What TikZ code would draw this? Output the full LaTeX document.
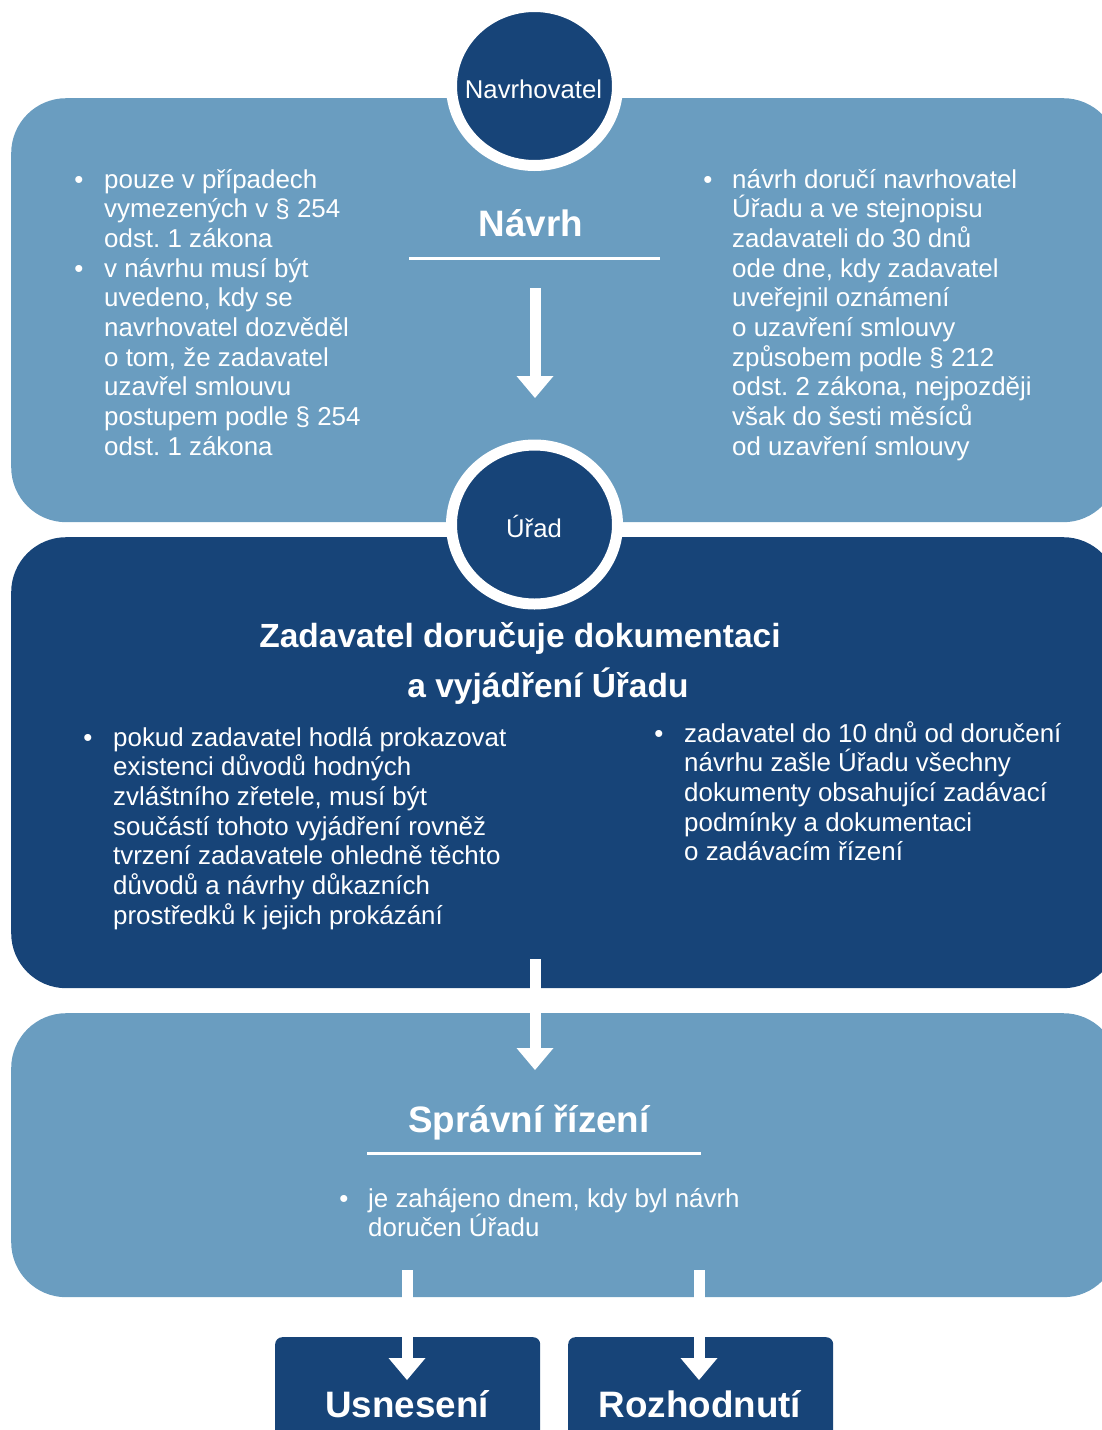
\documentclass[tikz,border=0pt]{standalone}
\usepackage{fontspec}
\setmainfont{Liberation Sans}
\usetikzlibrary{calc,shapes.geometric}
\frenchspacing

\definecolor{paleblue}{HTML}{6A9DC0}
\definecolor{navyblue}{HTML}{174478}

% white block arrow: shaft from #1 down to the head, filled head ending at #2
\newcommand{\blockarrow}[2]{%
  \draw[line width=11pt, white] (#1) -- ($(#2)+(0,-21)$);
  \fill[white] ($(#2)+(-18.5,-22)$) -- ($(#2)+(18.5,-22)$) -- (#2) -- cycle;}

\tikzset{
  panel/.style={anchor=north west, inner sep=0pt, rounded corners=55pt},
  palepanel/.style={panel, fill=paleblue},
  navypanel/.style={panel, fill=navyblue},
  endbox/.style={anchor=north west, inner sep=0pt, rounded corners=7pt, fill=navyblue,
    minimum width=265pt, minimum height=120pt},
  hub/.style={ellipse, fill=navyblue, draw=white, line width=11pt, inner sep=0pt,
    minimum width=166pt, minimum height=159pt},
  hublabel/.style={anchor=base, inner sep=0pt, text=white, font=\fontsize{25.7}{30}\selectfont},
  bodytext/.style={anchor=base west, inner sep=0pt, text=white,
    font=\fontsize{25.9}{29.7}\selectfont},
  dot/.style={anchor=base, inner sep=0pt, text=white, font=\fontsize{25.8}{29.7}\selectfont},
  heading/.style={anchor=base, inner sep=0pt, text=white, font=\fontsize{36.8}{40}\selectfont\bfseries},
  subheading/.style={anchor=base, inner sep=0pt, text=white, font=\fontsize{33.5}{40}\selectfont\bfseries},
  rule/.style={draw=white, line width=3pt},
}

\newcommand{\lines}[1]{\parbox[t]{420pt}{\raggedright #1}}

\begin{document}
\begin{tikzpicture}[x=1pt,y=-1pt]
\useasboundingbox (0,0) rectangle (1102,1430);
\clip (0,0) rectangle (1102,1430);

% panels
\node[palepanel, minimum width=1107pt, minimum height=424pt] (navrhpanel) at (11,98) {};
\node[navypanel, minimum width=1107pt, minimum height=451pt] (dokpanel) at (11,537) {};
\node[palepanel, minimum width=1107pt, minimum height=284pt] (rizenipanel) at (11,1013) {};
\node[endbox] (usneseni) at (275,1337) {};
\node[endbox] (rozhodnuti) at (568,1337) {};

% round badges
\node[hub] (navrhovatel) at (534.5,86) {};
\node[hublabel] (navrhovatellabel) at (533.5,98) {Navrhovatel};
\node[hub] (urad) at (534.5,524.5) {};
\node[hublabel] (uradlabel) at (534,537) {Úřad};

% Návrh
\node[heading] (navrh) at (531,236) {Návrh};
\draw[rule] (409,258) -- (660,258);

\node[dot] (b1) at (79,188) {•};
\node[bodytext] (t1) at (104,188) {\lines{pouze v případech\\vymezených v § 254\\odst. 1 zákona}};
\node[dot] (b2) at (79,277.1) {•};
\node[bodytext] (t2) at (104,277.1) {\lines{v návrhu musí být\\uvedeno, kdy se\\navrhovatel dozvěděl\\o tom, že zadavatel\\uzavřel smlouvu\\postupem podle § 254\\odst. 1 zákona}};

\node[dot] (b3) at (708,188) {•};
\node[bodytext] (t3) at (732,188) {\lines{návrh doručí navrhovatel\\Úřadu a ve stejnopisu\\zadavateli do 30 dnů\\ode dne, kdy zadavatel\\uveřejnil oznámení\\o uzavření smlouvy\\způsobem podle § 212\\odst. 2 zákona, nejpozději\\však do šesti měsíců\\od uzavření smlouvy}};

% Zadavatel doručuje dokumentaci
\node[subheading] (dok1) at (520,647) {Zadavatel doručuje dokumentaci};
\node[subheading] (dok2) at (548,697) {a vyjádření Úřadu};

\node[dot] (b4) at (88,746) {•};
\node[bodytext] (t4) at (113,746) {\lines{pokud zadavatel hodlá prokazovat\\existenci důvodů hodných\\zvláštního zřetele, musí být\\součástí tohoto vyjádření rovněž\\tvrzení zadavatele ohledně těchto\\důvodů a návrhy důkazních\\prostředků k jejich prokázání}};

\node[dot] (b5) at (659,742) {•};
\node[bodytext] (t5) at (684,742) {\lines{zadavatel do 10 dnů od doručení\\návrhu zašle Úřadu všechny\\dokumenty obsahující zadávací\\podmínky a dokumentaci\\o zadávacím řízení}};

% Správní řízení
\node[heading] (rizeni) at (529,1132) {Správní řízení};
\draw[rule] (367,1153) -- (701,1153);
\node[dot] (b6) at (344,1207) {•};
\node[bodytext] (t6) at (368,1207) {\lines{je zahájeno dnem, kdy byl návrh\\doručen Úřadu}};

% outcomes
\node[heading] (usnesenilabel) at (407,1417) {Usnesení};
\node[heading] (rozhodnutilabel) at (700,1417) {Rozhodnutí};

% arrows
\coordinate (a1s) at (535,288);
\coordinate (a1e) at (535,398);
\coordinate (a2s) at (535,959);
\coordinate (a2e) at (535,1070);
\coordinate (a3s) at (407,1270);
\coordinate (a3e) at (407,1380);
\coordinate (a4s) at (699,1270);
\coordinate (a4e) at (699,1380);
\blockarrow{a1s}{a1e}
\blockarrow{a2s}{a2e}
\blockarrow{a3s}{a3e}
\blockarrow{a4s}{a4e}
\end{tikzpicture}
\end{document}
